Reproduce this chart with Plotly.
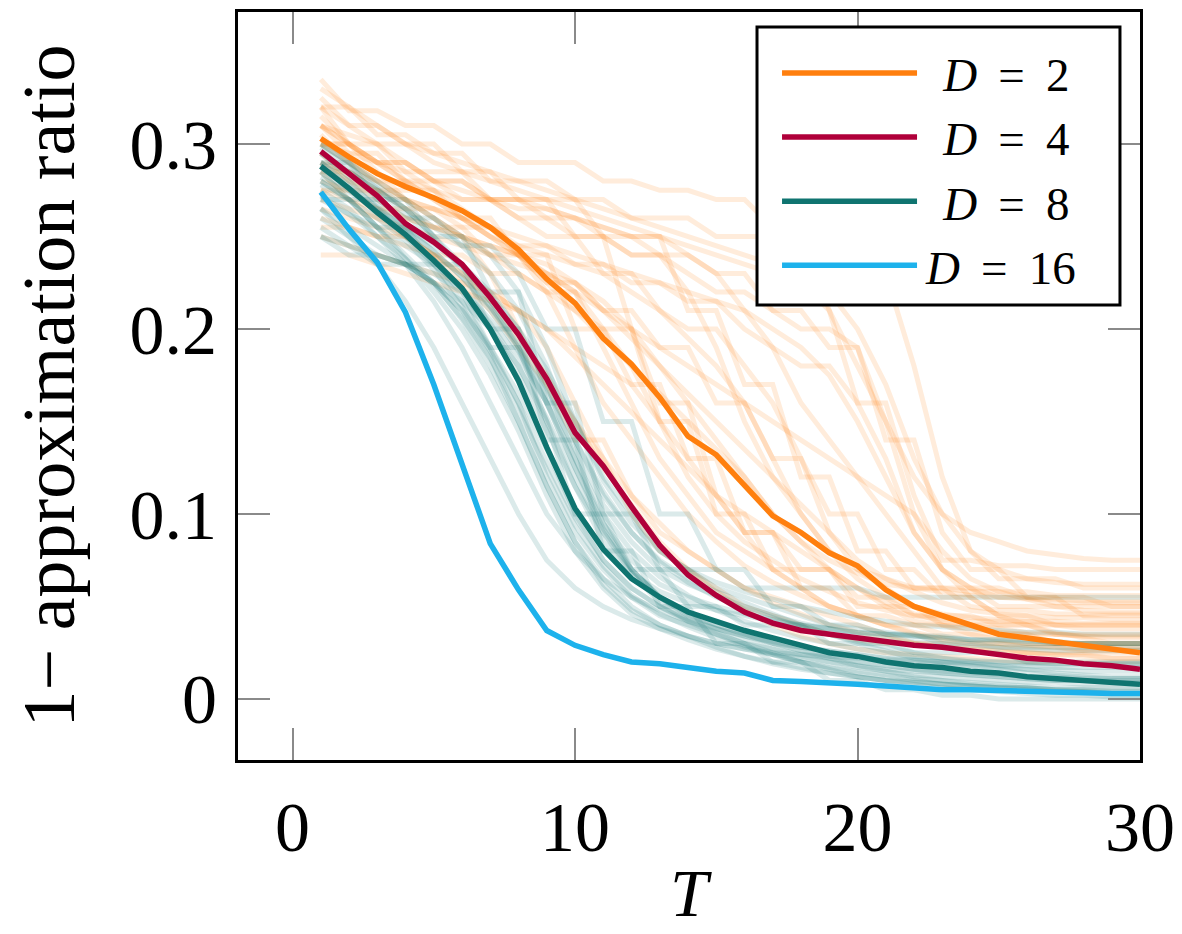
import plotly.graph_objects as go

# circuit depth T on the x axis
T = list(range(1, 31))

# mean curves, one per D
mean_d2 = [0.303, 0.293, 0.284, 0.277, 0.271, 0.264, 0.255, 0.243, 0.227, 0.214,
           0.195, 0.181, 0.163, 0.142, 0.132, 0.116, 0.099, 0.090, 0.079, 0.072,
           0.059, 0.050, 0.045, 0.040, 0.035, 0.033, 0.031, 0.029, 0.027, 0.025]
mean_d4 = [0.296, 0.284, 0.272, 0.257, 0.247, 0.235, 0.217, 0.197, 0.173, 0.144,
           0.126, 0.104, 0.083, 0.067, 0.056, 0.047, 0.041, 0.037, 0.035, 0.033,
           0.031, 0.029, 0.028, 0.026, 0.024, 0.022, 0.021, 0.019, 0.018, 0.016]
mean_d8 = [0.288, 0.276, 0.263, 0.251, 0.237, 0.222, 0.200, 0.172, 0.136, 0.103,
           0.081, 0.065, 0.055, 0.047, 0.042, 0.037, 0.033, 0.029, 0.025, 0.023,
           0.020, 0.018, 0.017, 0.015, 0.014, 0.012, 0.011, 0.010, 0.009, 0.008]
mean_d16 = [0.274, 0.254, 0.236, 0.209, 0.170, 0.127, 0.084, 0.059, 0.037, 0.029,
            0.024, 0.020, 0.019, 0.017, 0.015, 0.014, 0.010, 0.0095, 0.009, 0.008,
            0.007, 0.006, 0.005, 0.005, 0.0045, 0.004, 0.004, 0.0035, 0.003, 0.003]

# single instances, D = 2
runs_d2 = [
    [0.335, 0.318, 0.318, 0.310, 0.310, 0.300, 0.300, 0.290, 0.290, 0.290, 0.280, 0.280, 0.275, 0.275, 0.270,
     0.270, 0.255, 0.255, 0.210, 0.160, 0.160, 0.110, 0.075, 0.075, 0.072, 0.072, 0.070, 0.070, 0.070, 0.070],
    [0.320, 0.310, 0.310, 0.300, 0.300, 0.285, 0.285, 0.270, 0.270, 0.250, 0.250, 0.200, 0.160, 0.160, 0.110,
     0.090, 0.090, 0.070, 0.070, 0.055, 0.055, 0.045, 0.045, 0.045, 0.040, 0.040, 0.040, 0.038, 0.038, 0.038],
    [0.310, 0.300, 0.290, 0.290, 0.280, 0.280, 0.270, 0.260, 0.250, 0.250, 0.230, 0.230, 0.210, 0.200, 0.200,
     0.180, 0.160, 0.130, 0.090, 0.070, 0.060, 0.050, 0.045, 0.040, 0.035, 0.033, 0.030, 0.030, 0.030, 0.030],
    [0.300, 0.290, 0.280, 0.270, 0.260, 0.250, 0.230, 0.200, 0.170, 0.140, 0.140, 0.110, 0.090, 0.080, 0.070,
     0.060, 0.055, 0.050, 0.045, 0.040, 0.035, 0.030, 0.030, 0.028, 0.028, 0.025, 0.025, 0.025, 0.025, 0.025],
    [0.290, 0.285, 0.280, 0.280, 0.275, 0.270, 0.270, 0.265, 0.265, 0.260, 0.255, 0.250, 0.250, 0.240, 0.230,
     0.210, 0.190, 0.160, 0.140, 0.120, 0.100, 0.080, 0.060, 0.050, 0.048, 0.048, 0.046, 0.046, 0.046, 0.046],
    [0.315, 0.300, 0.285, 0.270, 0.260, 0.250, 0.245, 0.240, 0.230, 0.220, 0.190, 0.160, 0.130, 0.110, 0.090,
     0.080, 0.070, 0.060, 0.050, 0.045, 0.040, 0.040, 0.035, 0.035, 0.032, 0.030, 0.030, 0.030, 0.028, 0.028],
    [0.280, 0.275, 0.275, 0.265, 0.265, 0.255, 0.255, 0.245, 0.245, 0.235, 0.235, 0.225, 0.225, 0.215, 0.215,
     0.200, 0.190, 0.180, 0.180, 0.160, 0.130, 0.090, 0.070, 0.060, 0.055, 0.055, 0.052, 0.052, 0.052, 0.052],
    [0.260, 0.255, 0.250, 0.245, 0.240, 0.230, 0.220, 0.210, 0.190, 0.160, 0.130, 0.100, 0.080, 0.070, 0.060,
     0.050, 0.045, 0.040, 0.035, 0.032, 0.030, 0.030, 0.028, 0.026, 0.025, 0.025, 0.024, 0.024, 0.022, 0.022],
    [0.325, 0.310, 0.300, 0.290, 0.280, 0.275, 0.270, 0.270, 0.265, 0.260, 0.255, 0.250, 0.240, 0.220, 0.190,
     0.150, 0.120, 0.100, 0.080, 0.070, 0.065, 0.060, 0.060, 0.058, 0.058, 0.058, 0.056, 0.056, 0.056, 0.056],
    [0.300, 0.295, 0.290, 0.285, 0.275, 0.265, 0.255, 0.240, 0.225, 0.210, 0.195, 0.180, 0.165, 0.150, 0.135,
     0.120, 0.100, 0.085, 0.070, 0.060, 0.050, 0.042, 0.040, 0.038, 0.036, 0.035, 0.035, 0.034, 0.034, 0.034],
    [0.240, 0.240, 0.235, 0.230, 0.225, 0.220, 0.215, 0.210, 0.200, 0.190, 0.180, 0.170, 0.150, 0.130, 0.110,
     0.090, 0.070, 0.060, 0.050, 0.045, 0.040, 0.035, 0.032, 0.030, 0.030, 0.028, 0.028, 0.026, 0.026, 0.026],
    [0.310, 0.305, 0.300, 0.300, 0.295, 0.290, 0.285, 0.280, 0.275, 0.270, 0.265, 0.260, 0.255, 0.250, 0.245,
     0.240, 0.235, 0.230, 0.220, 0.200, 0.170, 0.130, 0.100, 0.080, 0.070, 0.065, 0.063, 0.062, 0.062, 0.062],
    [0.295, 0.280, 0.270, 0.260, 0.255, 0.250, 0.240, 0.230, 0.220, 0.210, 0.200, 0.180, 0.150, 0.120, 0.100,
     0.085, 0.075, 0.065, 0.058, 0.052, 0.048, 0.045, 0.043, 0.042, 0.042, 0.042, 0.040, 0.040, 0.040, 0.040],
    [0.270, 0.265, 0.260, 0.255, 0.250, 0.245, 0.240, 0.235, 0.230, 0.225, 0.215, 0.200, 0.180, 0.160, 0.140,
     0.120, 0.100, 0.085, 0.075, 0.068, 0.062, 0.060, 0.058, 0.056, 0.055, 0.054, 0.054, 0.053, 0.053, 0.053],
    [0.305, 0.290, 0.280, 0.270, 0.265, 0.260, 0.255, 0.250, 0.245, 0.240, 0.235, 0.230, 0.225, 0.220, 0.215,
     0.210, 0.200, 0.190, 0.175, 0.150, 0.120, 0.090, 0.070, 0.055, 0.045, 0.040, 0.036, 0.033, 0.030, 0.030],
    [0.285, 0.270, 0.260, 0.250, 0.240, 0.225, 0.210, 0.190, 0.170, 0.150, 0.130, 0.110, 0.095, 0.080, 0.070,
     0.060, 0.052, 0.046, 0.040, 0.036, 0.033, 0.030, 0.028, 0.027, 0.026, 0.025, 0.024, 0.023, 0.022, 0.022],
    [0.330, 0.320, 0.310, 0.300, 0.290, 0.285, 0.280, 0.275, 0.270, 0.265, 0.260, 0.255, 0.250, 0.245, 0.240,
     0.235, 0.230, 0.225, 0.210, 0.180, 0.150, 0.120, 0.100, 0.090, 0.085, 0.080, 0.078, 0.076, 0.075, 0.075],
    [0.250, 0.245, 0.240, 0.235, 0.230, 0.225, 0.220, 0.210, 0.200, 0.185, 0.170, 0.155, 0.140, 0.125, 0.110,
     0.100, 0.090, 0.080, 0.070, 0.060, 0.052, 0.046, 0.042, 0.040, 0.038, 0.036, 0.035, 0.034, 0.033, 0.033],
    [0.320, 0.300, 0.290, 0.280, 0.270, 0.260, 0.250, 0.245, 0.240, 0.235, 0.230, 0.220, 0.210, 0.195, 0.180,
     0.160, 0.130, 0.100, 0.080, 0.065, 0.055, 0.050, 0.046, 0.044, 0.043, 0.042, 0.042, 0.041, 0.041, 0.041],
    [0.275, 0.270, 0.265, 0.260, 0.255, 0.250, 0.245, 0.240, 0.235, 0.225, 0.210, 0.195, 0.180, 0.165, 0.150,
     0.135, 0.120, 0.105, 0.090, 0.075, 0.065, 0.058, 0.052, 0.048, 0.046, 0.045, 0.044, 0.044, 0.043, 0.043],
    [0.310, 0.300, 0.290, 0.280, 0.270, 0.260, 0.250, 0.240, 0.230, 0.220, 0.210, 0.200, 0.190, 0.180, 0.170,
     0.160, 0.150, 0.140, 0.130, 0.120, 0.110, 0.100, 0.080, 0.065, 0.058, 0.054, 0.050, 0.048, 0.047, 0.047],
    [0.290, 0.280, 0.275, 0.270, 0.265, 0.260, 0.250, 0.240, 0.220, 0.190, 0.160, 0.140, 0.120, 0.100, 0.085,
     0.072, 0.063, 0.056, 0.050, 0.045, 0.040, 0.036, 0.033, 0.031, 0.030, 0.029, 0.028, 0.027, 0.027, 0.027],
    [0.300, 0.300, 0.290, 0.290, 0.280, 0.280, 0.270, 0.270, 0.260, 0.260, 0.250, 0.240, 0.240, 0.230, 0.220,
     0.220, 0.210, 0.200, 0.200, 0.190, 0.150, 0.100, 0.070, 0.060, 0.060, 0.055, 0.055, 0.055, 0.050, 0.050],
    [0.265, 0.260, 0.255, 0.250, 0.240, 0.230, 0.215, 0.195, 0.175, 0.150, 0.125, 0.105, 0.085, 0.070, 0.058,
     0.048, 0.040, 0.034, 0.030, 0.027, 0.025, 0.024, 0.023, 0.022, 0.021, 0.020, 0.020, 0.020, 0.020, 0.020],
    [0.300, 0.300, 0.300, 0.285, 0.285, 0.285, 0.270, 0.270, 0.270, 0.270, 0.250, 0.250, 0.250, 0.210, 0.210,
     0.170, 0.170, 0.120, 0.120, 0.080, 0.080, 0.060, 0.060, 0.060, 0.050, 0.050, 0.050, 0.050, 0.050, 0.050],
    [0.285, 0.285, 0.275, 0.275, 0.275, 0.260, 0.260, 0.240, 0.240, 0.200, 0.200, 0.200, 0.150, 0.150, 0.100,
     0.100, 0.070, 0.070, 0.070, 0.050, 0.050, 0.050, 0.040, 0.040, 0.040, 0.040, 0.035, 0.035, 0.035, 0.035],
    [0.320, 0.320, 0.305, 0.305, 0.295, 0.295, 0.280, 0.280, 0.280, 0.270, 0.270, 0.260, 0.260, 0.260, 0.250,
     0.250, 0.250, 0.240, 0.240, 0.230, 0.230, 0.180, 0.120, 0.080, 0.065, 0.065, 0.065, 0.060, 0.060, 0.060],
    [0.255, 0.255, 0.250, 0.250, 0.240, 0.240, 0.230, 0.230, 0.220, 0.220, 0.200, 0.170, 0.170, 0.130, 0.130,
     0.090, 0.090, 0.060, 0.060, 0.045, 0.045, 0.040, 0.040, 0.035, 0.035, 0.035, 0.030, 0.030, 0.030, 0.030],
    [0.310, 0.295, 0.295, 0.280, 0.280, 0.270, 0.270, 0.260, 0.260, 0.250, 0.250, 0.240, 0.240, 0.240, 0.230,
     0.230, 0.210, 0.210, 0.190, 0.190, 0.140, 0.140, 0.090, 0.070, 0.070, 0.055, 0.055, 0.045, 0.045, 0.045],
    [0.275, 0.275, 0.265, 0.265, 0.255, 0.255, 0.240, 0.240, 0.225, 0.225, 0.210, 0.210, 0.190, 0.190, 0.160,
     0.160, 0.130, 0.130, 0.100, 0.100, 0.070, 0.070, 0.055, 0.055, 0.045, 0.045, 0.040, 0.040, 0.040, 0.040],
]

# single instances, D = 8
runs_d8 = [
    [0.300, 0.290, 0.280, 0.270, 0.260, 0.250, 0.240, 0.220, 0.190, 0.150, 0.120, 0.100, 0.080, 0.070, 0.060,
     0.055, 0.050, 0.045, 0.040, 0.038, 0.036, 0.034, 0.034, 0.032, 0.032, 0.032, 0.030, 0.030, 0.030, 0.030],
    [0.290, 0.280, 0.265, 0.250, 0.235, 0.215, 0.190, 0.160, 0.120, 0.090, 0.070, 0.055, 0.045, 0.040, 0.035,
     0.030, 0.027, 0.024, 0.022, 0.020, 0.018, 0.016, 0.015, 0.014, 0.013, 0.012, 0.012, 0.011, 0.011, 0.011],
    [0.285, 0.275, 0.265, 0.255, 0.245, 0.235, 0.220, 0.200, 0.170, 0.130, 0.095, 0.070, 0.055, 0.045, 0.040,
     0.035, 0.030, 0.026, 0.022, 0.018, 0.015, 0.012, 0.010, 0.008, 0.007, 0.006, 0.005, 0.004, 0.003, 0.003],
    [0.275, 0.265, 0.250, 0.235, 0.215, 0.190, 0.160, 0.130, 0.100, 0.080, 0.065, 0.055, 0.048, 0.042, 0.038,
     0.034, 0.030, 0.028, 0.026, 0.024, 0.022, 0.020, 0.019, 0.018, 0.017, 0.016, 0.016, 0.015, 0.015, 0.015],
    [0.295, 0.285, 0.275, 0.265, 0.255, 0.245, 0.230, 0.210, 0.180, 0.140, 0.110, 0.090, 0.075, 0.065, 0.058,
     0.052, 0.046, 0.040, 0.035, 0.030, 0.026, 0.022, 0.020, 0.018, 0.016, 0.014, 0.013, 0.012, 0.011, 0.011],
    [0.260, 0.250, 0.240, 0.235, 0.225, 0.210, 0.190, 0.165, 0.135, 0.100, 0.075, 0.060, 0.050, 0.042, 0.036,
     0.030, 0.025, 0.020, 0.016, 0.012, 0.010, 0.008, 0.006, 0.005, 0.004, 0.003, 0.002, 0.002, 0.001, 0.001],
    [0.290, 0.285, 0.275, 0.265, 0.250, 0.235, 0.215, 0.190, 0.160, 0.125, 0.095, 0.075, 0.062, 0.055, 0.050,
     0.046, 0.043, 0.040, 0.038, 0.036, 0.035, 0.034, 0.033, 0.032, 0.031, 0.030, 0.030, 0.030, 0.030, 0.030],
    [0.280, 0.270, 0.255, 0.240, 0.225, 0.205, 0.180, 0.150, 0.115, 0.085, 0.065, 0.050, 0.040, 0.034, 0.028,
     0.023, 0.019, 0.016, 0.014, 0.012, 0.010, 0.009, 0.008, 0.007, 0.006, 0.006, 0.005, 0.005, 0.005, 0.005],
    [0.270, 0.262, 0.255, 0.245, 0.235, 0.222, 0.205, 0.185, 0.160, 0.130, 0.100, 0.080, 0.066, 0.056, 0.048,
     0.042, 0.037, 0.033, 0.030, 0.027, 0.025, 0.023, 0.022, 0.021, 0.020, 0.020, 0.019, 0.019, 0.019, 0.019],
    [0.250, 0.245, 0.240, 0.235, 0.230, 0.220, 0.200, 0.175, 0.145, 0.115, 0.090, 0.070, 0.055, 0.045, 0.038,
     0.032, 0.027, 0.023, 0.020, 0.017, 0.015, 0.013, 0.012, 0.011, 0.010, 0.009, 0.009, 0.008, 0.008, 0.008],
    [0.300, 0.290, 0.278, 0.265, 0.250, 0.232, 0.212, 0.190, 0.165, 0.135, 0.105, 0.085, 0.070, 0.062, 0.056,
     0.050, 0.045, 0.041, 0.038, 0.035, 0.033, 0.031, 0.030, 0.029, 0.028, 0.027, 0.026, 0.026, 0.026, 0.026],
    [0.285, 0.270, 0.255, 0.238, 0.220, 0.200, 0.175, 0.145, 0.110, 0.080, 0.060, 0.046, 0.038, 0.032, 0.027,
     0.023, 0.020, 0.017, 0.014, 0.012, 0.010, 0.009, 0.008, 0.007, 0.006, 0.006, 0.005, 0.005, 0.004, 0.004],
    [0.265, 0.255, 0.245, 0.235, 0.225, 0.215, 0.200, 0.180, 0.150, 0.115, 0.085, 0.068, 0.058, 0.052, 0.048,
     0.045, 0.042, 0.040, 0.038, 0.036, 0.035, 0.034, 0.033, 0.032, 0.032, 0.031, 0.031, 0.030, 0.030, 0.030],
    [0.295, 0.282, 0.268, 0.255, 0.242, 0.228, 0.210, 0.188, 0.160, 0.125, 0.092, 0.070, 0.055, 0.046, 0.040,
     0.035, 0.030, 0.026, 0.023, 0.020, 0.018, 0.016, 0.014, 0.013, 0.012, 0.011, 0.010, 0.010, 0.009, 0.009],
    [0.278, 0.270, 0.260, 0.248, 0.232, 0.212, 0.188, 0.160, 0.128, 0.098, 0.075, 0.060, 0.050, 0.043, 0.038,
     0.034, 0.031, 0.028, 0.026, 0.024, 0.022, 0.021, 0.020, 0.019, 0.018, 0.018, 0.017, 0.017, 0.017, 0.017],
    [0.290, 0.278, 0.266, 0.254, 0.242, 0.228, 0.212, 0.192, 0.168, 0.140, 0.112, 0.090, 0.074, 0.063, 0.055,
     0.049, 0.044, 0.039, 0.035, 0.031, 0.028, 0.025, 0.022, 0.020, 0.018, 0.016, 0.014, 0.013, 0.012, 0.012],
    [0.255, 0.245, 0.235, 0.235, 0.225, 0.210, 0.185, 0.150, 0.115, 0.085, 0.062, 0.048, 0.040, 0.034, 0.030,
     0.027, 0.025, 0.024, 0.023, 0.022, 0.021, 0.021, 0.020, 0.020, 0.020, 0.019, 0.019, 0.019, 0.019, 0.019],
    [0.282, 0.274, 0.264, 0.252, 0.238, 0.222, 0.203, 0.180, 0.152, 0.120, 0.090, 0.068, 0.052, 0.042, 0.035,
     0.029, 0.024, 0.020, 0.017, 0.015, 0.013, 0.011, 0.010, 0.009, 0.008, 0.007, 0.006, 0.006, 0.006, 0.006],
    [0.298, 0.288, 0.276, 0.262, 0.248, 0.234, 0.218, 0.200, 0.178, 0.150, 0.118, 0.095, 0.080, 0.070, 0.063,
     0.058, 0.054, 0.050, 0.047, 0.044, 0.042, 0.040, 0.039, 0.038, 0.037, 0.036, 0.036, 0.035, 0.035, 0.035],
    [0.272, 0.262, 0.250, 0.238, 0.224, 0.206, 0.184, 0.156, 0.124, 0.094, 0.072, 0.056, 0.046, 0.039, 0.033,
     0.028, 0.024, 0.020, 0.017, 0.014, 0.012, 0.010, 0.008, 0.007, 0.006, 0.005, 0.004, 0.004, 0.003, 0.003],
    [0.265, 0.250, 0.235, 0.215, 0.190, 0.160, 0.130, 0.100, 0.075, 0.060, 0.050, 0.043, 0.038, 0.034, 0.030,
     0.027, 0.024, 0.022, 0.020, 0.018, 0.016, 0.015, 0.014, 0.013, 0.012, 0.011, 0.010, 0.010, 0.010, 0.010],
    [0.290, 0.290, 0.270, 0.270, 0.250, 0.250, 0.220, 0.220, 0.160, 0.160, 0.100, 0.100, 0.070, 0.070, 0.070,
     0.060, 0.060, 0.060, 0.060, 0.060, 0.055, 0.055, 0.055, 0.055, 0.055, 0.055, 0.055, 0.055, 0.055, 0.055],
    [0.270, 0.270, 0.255, 0.255, 0.235, 0.235, 0.200, 0.200, 0.140, 0.140, 0.080, 0.080, 0.050, 0.050, 0.030,
     0.030, 0.020, 0.020, 0.010, 0.010, 0.005, 0.005, 0.002, 0.002, 0.000, 0.000, 0.000, 0.000, 0.000, 0.000],
    [0.250, 0.240, 0.240, 0.235, 0.235, 0.220, 0.190, 0.190, 0.150, 0.100, 0.100, 0.070, 0.070, 0.050, 0.050,
     0.040, 0.040, 0.040, 0.030, 0.030, 0.030, 0.025, 0.025, 0.025, 0.025, 0.020, 0.020, 0.020, 0.020, 0.020],
    [0.280, 0.270, 0.270, 0.260, 0.260, 0.245, 0.245, 0.230, 0.200, 0.200, 0.150, 0.150, 0.100, 0.100, 0.070,
     0.070, 0.050, 0.050, 0.040, 0.040, 0.035, 0.035, 0.030, 0.030, 0.028, 0.028, 0.028, 0.028, 0.028, 0.028],
]

# legend labels (small leading spaces keep the texts roughly centred like the original)
labels = ["\u00a0\u2009<i>D</i>\u2009 = \u20092",
          "\u00a0\u2009<i>D</i>\u2009 = \u20094",
          "\u00a0\u2009<i>D</i>\u2009 = \u20098",
          "\u200a<i>D</i>\u2009 = \u200916"]
colors = ["#ff7f0e", "#b0003a", "#0f7470", "#1db2ec"]

FONT = "Liberation Serif"

fig = go.Figure()

# faint per-instance curves
for run in runs_d2:
    fig.add_trace(go.Scatter(x=T[:len(run)], y=run, mode="lines",
                             line=dict(color="rgba(255,127,14,0.15)", width=5),
                             showlegend=False, hoverinfo="skip"))
for run in runs_d8:
    fig.add_trace(go.Scatter(x=T[:len(run)], y=run, mode="lines",
                             line=dict(color="rgba(15,116,112,0.15)", width=5),
                             showlegend=False, hoverinfo="skip"))

# mean curves
for vals, name, col in zip([mean_d2, mean_d4, mean_d8, mean_d16], labels, colors):
    fig.add_trace(go.Scatter(x=T, y=vals, mode="lines", name=name,
                             line=dict(color=col, width=5.5)))

axis_common = dict(
    showline=True, linecolor="black", linewidth=3, mirror="allticks",
    ticks="inside", ticklen=32, tickwidth=1.5, tickcolor="#8a8a8a",
    showgrid=False, zeroline=False,
    tickfont=dict(family=FONT, size=70, color="black"),
)

fig.update_xaxes(range=[-1.93, 30], tickvals=[0, 10, 20, 30],
                 ticklabelstandoff=4,
                 title=dict(text="<i>T</i>", font=dict(family=FONT, size=68, color="black"),
                            standoff=4),
                 **axis_common)
fig.update_yaxes(range=[-0.033, 0.3714], tickvals=[0, 0.1, 0.2, 0.3],
                 ticktext=["0", "0.1", "0.2", "0.3"],
                 ticklabelstandoff=4,
                 title=dict(text="1\u2212 approximation ratio",
                            font=dict(family=FONT, size=74, color="black"),
                            standoff=44),
                 **axis_common)

# legend frame (opaque, like the original)
fig.add_shape(type="rect", xref="paper", yref="paper",
              x0=0.5754, x1=0.9778, y0=0.6083, y1=0.980,
              fillcolor="white", line=dict(color="black", width=3), layer="above")

fig.update_layout(
    width=1182, height=934,
    margin=dict(l=230, r=50, t=4, b=182, autoexpand=False),
    plot_bgcolor="white", paper_bgcolor="white",
    font=dict(family=FONT, color="black"),
    legend=dict(x=0.5976, y=0.968, xanchor="left", yanchor="top",
                bgcolor="rgba(0,0,0,0)", borderwidth=0,
                font=dict(family=FONT, size=47, color="black"),
                itemwidth=135, tracegroupgap=0),
)

fig.write_html("out.html")
